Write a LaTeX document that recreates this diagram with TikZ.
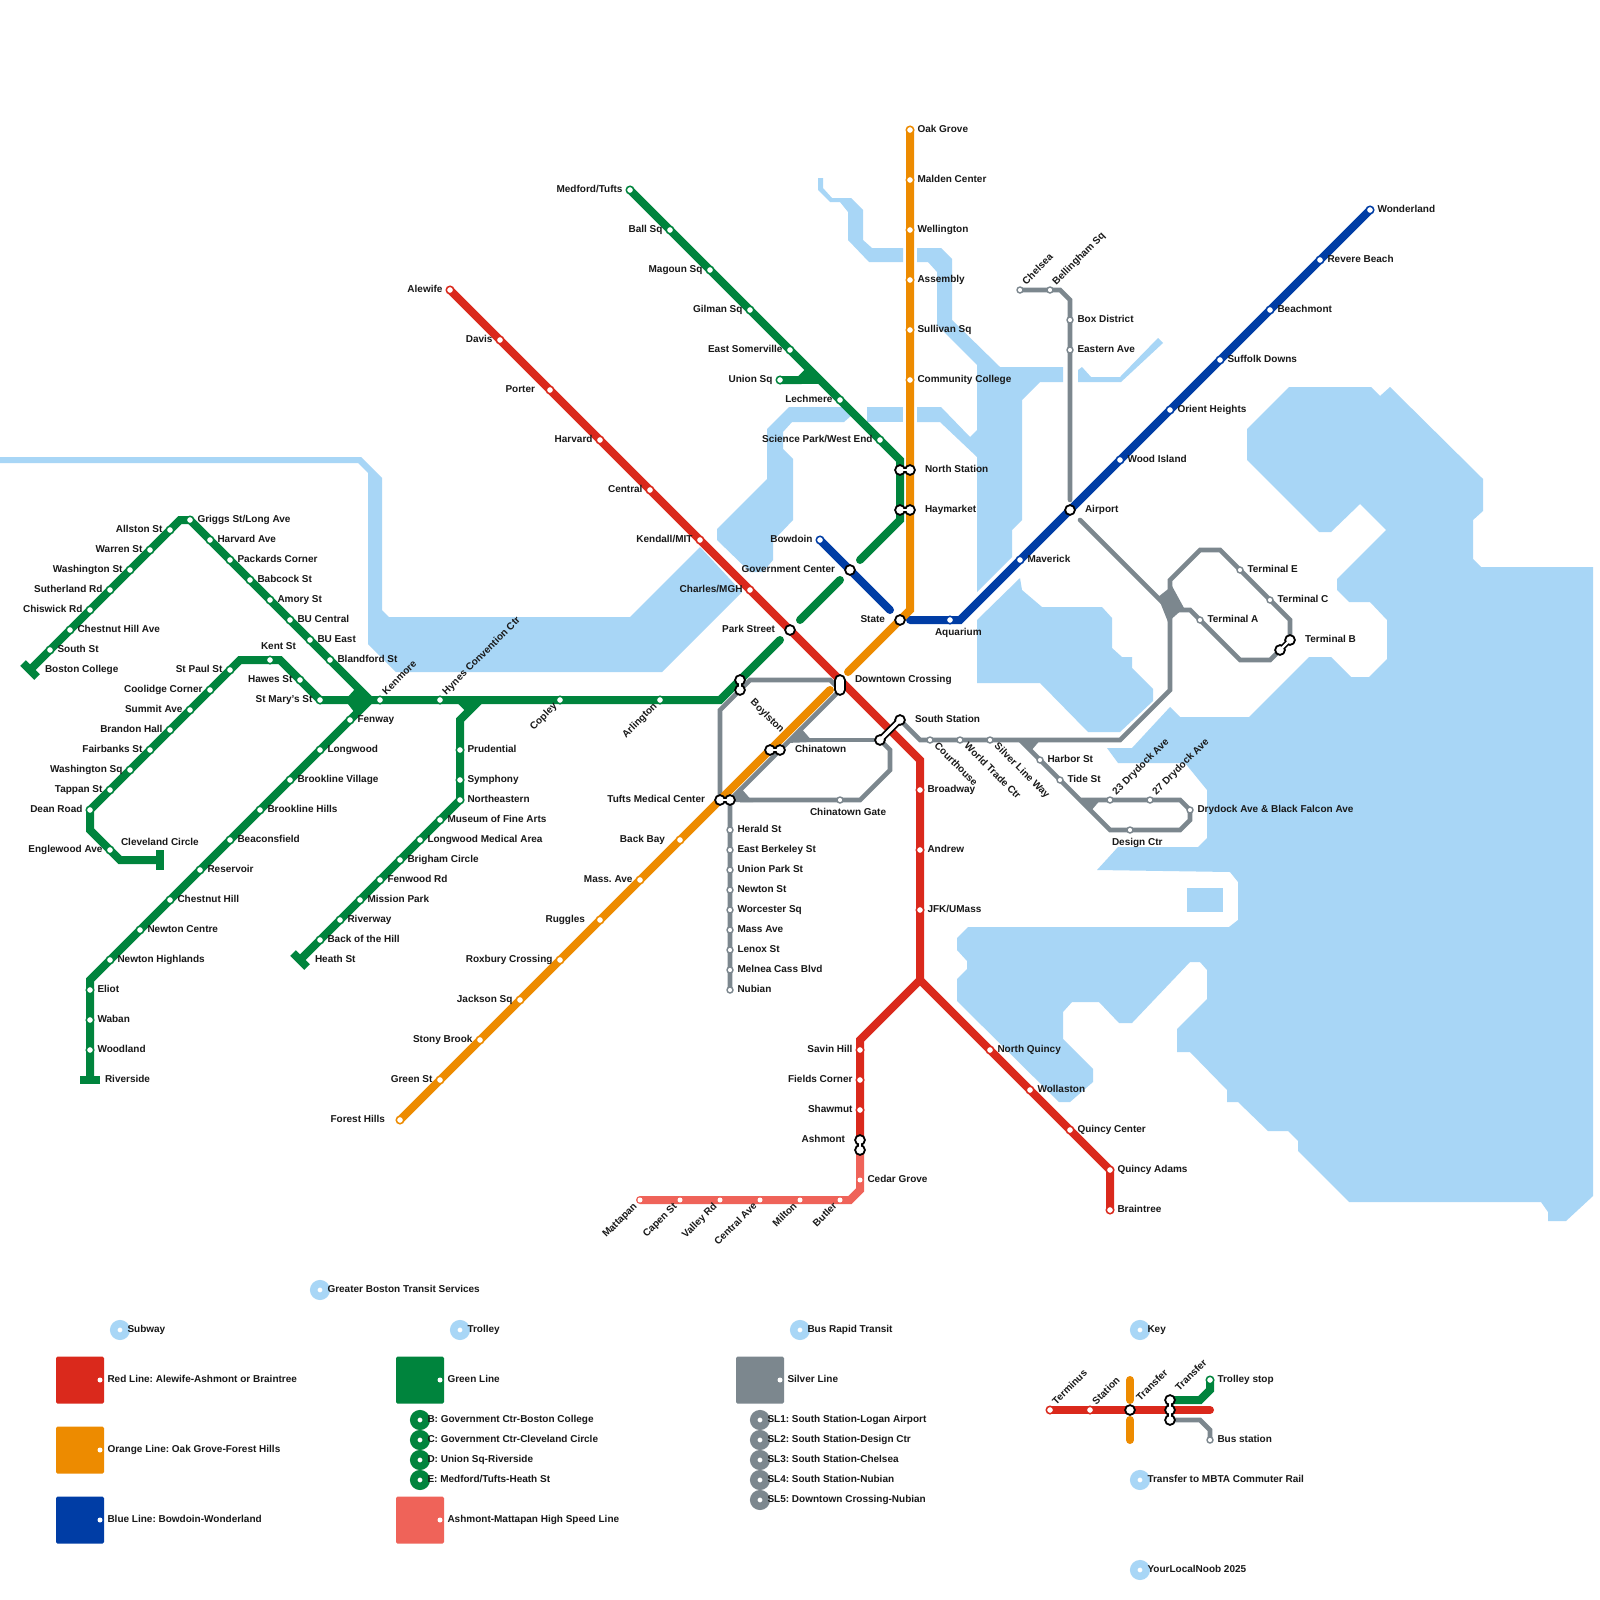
\documentclass[tikz,border=0pt]{standalone}
\usepackage{fontspec}
\setmainfont{Liberation Sans}
\definecolor{cred}{HTML}{DA291C}
\definecolor{corange}{HTML}{ED8B00}
\definecolor{cblue}{HTML}{003DA5}
\definecolor{cgreen}{HTML}{00843D}
\definecolor{csilver}{HTML}{7C878E}
\definecolor{cmatt}{HTML}{EF6359}
\definecolor{cwater}{HTML}{A8D6F6}
\pgfdeclarelayer{water}\pgfdeclarelayer{lines}\pgfdeclarelayer{top}
\pgfsetlayers{water,lines,main,top}
\tikzset{
 lbl/.style={inner sep=0pt,outer sep=0pt,text height=7.2pt,text depth=3.2pt,font=\bfseries\fontsize{10}{12}\selectfont\frenchspacing,text=black!90},
 R/.style={anchor=west,xshift=7.5pt},
 L/.style={anchor=east,xshift=-7.5pt},
 NE/.style={anchor=west,xshift=5pt,yshift=6.3pt,rotate=45},
 SW/.style={anchor=east,xshift=-4pt,yshift=-5.5pt,rotate=45},
 SE/.style={anchor=west,xshift=5.3pt,yshift=-5.3pt,rotate=-45},
 mk/.style={circle,inner sep=0pt,minimum size=7.5pt,line width=1.5pt,fill=white,draw=#1},
 sr/.style={mk=cred}, so/.style={mk=corange}, sb/.style={mk=cblue}, sg/.style={mk=cgreen}, sm/.style={circle,inner sep=0pt,minimum size=5pt,fill=white},
 ss/.style={circle,inner sep=0pt,minimum size=6pt,line width=1.4pt,fill=white,draw=csilver},
 xf/.style={circle,inner sep=0pt,minimum size=9.8pt,line width=1.8pt,fill=white,draw=black},
 lring/.style={circle,inner sep=0pt,minimum size=12.5pt,line width=7.5pt,fill=white,draw=#1},
 ldot/.style={circle,inner sep=0pt,minimum size=5pt,fill=white},
 lrect/.style={rectangle,rounded corners=1.5pt,inner sep=0pt,minimum width=48pt,minimum height=47pt,fill=#1},
 redl/.style={draw=cred,line width=8pt},
 orl/.style={draw=corange,line width=8pt},
 bll/.style={draw=cblue,line width=8pt},
 grl/.style={draw=cgreen,line width=8pt},
 mal/.style={draw=cmatt,line width=8pt},
 sil/.style={draw=csilver,line width=4.6pt},
 neckb/.style={draw=black,line width=5.6pt},
 neckw/.style={draw=white,line width=2.4pt},
 tbar/.style={draw=cgreen,line width=8pt},
}
\newcommand\stn[6]{\node[#4] (#1) at (#2,#3) {};\node[lbl,#5] (#1-t) at (#1.center) {#6};}
\newcommand\mkr[4]{\node[#4] (#1) at (#2,#3) {};}
\newcommand\txt[5]{\node[lbl,#4] (#1) at (#2,#3) {#5};}
\begin{document}
\begin{tikzpicture}[x=1pt,y=-1pt]
\useasboundingbox (0,0) rectangle (1600,1600);
\begin{pgfonlayer}{water}
\fill[white] (0,0) rectangle (1600,1600);
\fill[cwater] (0,457)--(361,457)--(382,478)--(382,610)--(389,617)--(630,617)--(700,547)--(742,592)--(662,672)--(396,672)--(368,644)--(368,473)--(358,463)--(0,463)--cycle;
\fill[cwater] (717,529)--(767,479)--(767,429)--(789,407)--(843,407)--(852,415)--(844,422)--(792,422)--(783,432)--(783,449)--(793,459)--(793,520)--(773,541)--(773,560)--(763,572)--(750,572)--(717,540)--cycle;
\fill[cwater] (867,407)--(903,407)--(903,422)--(867,422)--cycle;
\fill[cwater] (818,178)--(823,178)--(823,188)--(832,198)--(851,198)--(863,210)--(863,240)--(872,248)--(903,248)--(903,262)--(869,262)--(848,240)--(848,212)--(840,202)--(830,202)--(818,190)--cycle;
\fill[cwater] (917,248)--(941,248)--(952,259)--(952,320)--(1000,367)--(1063,367)--(1063,382)--(1040,382)--(1022,400)--(1022,520)--(1012,530)--(1012,557)--(977,592)--(977,457)--(940,422)--(917,422)--(917,407)--(941,407)--(970,437)--(977,430)--(977,365)--(937,325)--(937,272)--(928,262)--(917,262)--cycle;
\fill[cwater] (1078,370)--(1082,367)--(1091,377)--(1120,377)--(1158,338)--(1163,343)--(1121,382)--(1078,382)--cycle;
\fill[cwater] (977,620)--(1020,578)--(1022,590)--(1042,607)--(1102,607)--(1112,618)--(1112,648)--(1122,657)--(1132,657)--(1132,668)--(1153,689)--(1153,701)--(1120,732)--(1088,732)--(1040,683)--(977,683)--cycle;
\fill[cwater] (1170,707)--(1132,748)--(1107,748)--(1118,763)--(1185,763)--(1207,790)--(1207,838)--(1198,847)--(1118,847)--(1097,870)--(1230,872)--(1238,882)--(1238,920)--(1229,927)--(968,927)--(957,938)--(957,950)--(967,961)--(967,969)--(957,979)--(957,1001)--(1059,1102)--(1070,1102)--(1093,1082)--(1093,1069)--(1063,1039)--(1063,1012)--(1072,1002)--(1099,1002)--(1119,1023)--(1132,1023)--(1190,962)--(1200,962)--(1207,970)--(1207,999)--(1177,1029)--(1177,1052)--(1190,1052)--(1227,1090)--(1227,1102)--(1238,1102)--(1268,1131)--(1288,1131)--(1298,1141)--(1298,1151)--(1349,1202)--(1541,1202)--(1548,1212)--(1548,1221)--(1566,1221)--(1593,1196)--(1593,567)--(1481,567)--(1473,559)--(1473,520)--(1483,511)--(1483,479)--(1390,387)--(1380,396)--(1371,387)--(1289,387)--(1247,429)--(1247,460)--(1319,532)--(1331,532)--(1360,504)--(1386,530)--(1337,579)--(1337,590)--(1349,602)--(1370,602)--(1387,620)--(1387,659)--(1369,677)--(1351,677)--(1331,657)--(1309,657)--(1249,717)--(1180,717)--cycle;
\fill[cwater] (1187,888) rectangle (1223,912);
\end{pgfonlayer}
% ---------- Orange
\stn{oak}{910}{130}{so}{R}{Oak Grove}
\stn{malden}{910}{180}{so}{R}{Malden Center}
\stn{well}{910}{230}{so}{R}{Wellington}
\stn{assembly}{910}{280}{so}{R}{Assembly}
\stn{sullivan}{910}{330}{so}{R}{Sullivan Sq}
\stn{cc}{910}{380}{so}{R}{Community College}
\mkr{northo}{910}{470}{xf}
\txt{northt}{925}{470}{anchor=west}{North Station}
\mkr{haym}{910}{510}{xf}
\txt{haymt}{925}{510}{anchor=west}{Haymarket}
\stn{backbay}{680}{840}{so}{L,xshift=-7.5pt}{Back Bay}
\stn{mass}{640}{880}{so}{L}{Mass. Ave}
\stn{ruggles}{600}{920}{so}{L,xshift=-7.5pt}{Ruggles}
\stn{roxbury}{560}{960}{so}{L}{Roxbury Crossing}
\stn{jackson}{520}{1000}{so}{L}{Jackson Sq}
\stn{stony}{480}{1040}{so}{L}{Stony Brook}
\stn{greenst}{440}{1080}{so}{L}{Green St}
\stn{forest}{400}{1120}{so}{L,xshift=-7.5pt}{Forest Hills}
% ---------- Red
\stn{alewife}{450}{290}{sr}{L}{Alewife}
\stn{davis}{500}{340}{sr}{L}{Davis}
\stn{porter}{550}{390}{sr}{L,xshift=-7.5pt}{Porter}
\stn{harvard}{600}{440}{sr}{L}{Harvard}
\stn{central}{650}{490}{sr}{L}{Central}
\stn{kendall}{700}{540}{sr}{L}{Kendall/MIT}
\stn{charles}{750}{590}{sr}{L}{Charles/MGH}
\mkr{park}{790}{630}{xf}
\txt{parkt}{775}{630}{anchor=east}{Park Street}
\mkr{dtxa}{840}{680}{xf}
\mkr{dtxb}{840}{690}{xf}
\txt{dtxt}{855}{680}{anchor=west}{Downtown Crossing}
\mkr{southa}{900}{720}{xf}
\mkr{southb}{880}{740}{xf}
\txt{southt}{915}{720}{anchor=west}{South Station}
\stn{broadway}{920}{790}{sr}{R}{Broadway}
\stn{andrew}{920}{850}{sr}{R}{Andrew}
\stn{jfk}{920}{910}{sr}{R}{JFK/UMass}
\stn{savin}{860}{1050}{sr}{L}{Savin Hill}
\stn{fields}{860}{1080}{sr}{L}{Fields Corner}
\stn{shawmut}{860}{1110}{sr}{L}{Shawmut}
\mkr{asha}{860}{1140}{xf}
\mkr{ashb}{860}{1150}{xf}
\txt{asht}{845}{1140}{anchor=east}{Ashmont}
\stn{nquincy}{990}{1050}{sr}{R}{North Quincy}
\stn{wollaston}{1030}{1090}{sr}{R}{Wollaston}
\stn{quincyc}{1070}{1130}{sr}{R}{Quincy Center}
\stn{quincya}{1110}{1170}{sr}{R}{Quincy Adams}
\stn{braintree}{1110}{1210}{sr}{R}{Braintree}
% ---------- Mattapan
\stn{cedar}{860}{1180}{sm}{R}{Cedar Grove}
\stn{butler}{840}{1200}{sm}{SW}{Butler}
\stn{milton}{800}{1200}{sm}{SW}{Milton}
\stn{centralave}{760}{1200}{sm}{SW}{Central Ave}
\stn{valley}{720}{1200}{sm}{SW}{Valley Rd}
\stn{capen}{680}{1200}{sm}{SW}{Capen St}
\stn{mattapan}{640}{1200}{sm}{SW}{Mattapan}
% ---------- Blue
\stn{bowdoin}{820}{540}{sb}{L}{Bowdoin}
\mkr{gov}{850}{570}{xf}
\txt{govt}{835}{570}{anchor=east}{Government Center}
\mkr{state}{900}{620}{xf}
\txt{statet}{885}{620}{anchor=east}{State}
\stn{aquarium}{950}{620}{sb}{anchor=west,xshift=-15pt,yshift=-13pt}{Aquarium}
\stn{maverick}{1020}{560}{sb}{R}{Maverick}
\mkr{airport}{1070}{510}{xf}
\txt{airportt}{1085}{510}{anchor=west}{Airport}
\stn{wood}{1120}{460}{sb}{R}{Wood Island}
\stn{orient}{1170}{410}{sb}{R}{Orient Heights}
\stn{suffolk}{1220}{360}{sb}{R}{Suffolk Downs}
\stn{beachmont}{1270}{310}{sb}{R}{Beachmont}
\stn{revere}{1320}{260}{sb}{R}{Revere Beach}
\stn{wonderland}{1370}{210}{sb}{R}{Wonderland}
% ---------- Green
\stn{medford}{630}{190}{sg}{L}{Medford/Tufts}
\stn{ball}{670}{230}{sg}{L}{Ball Sq}
\stn{magoun}{710}{270}{sg}{L}{Magoun Sq}
\stn{gilman}{750}{310}{sg}{L}{Gilman Sq}
\stn{esom}{790}{350}{sg}{L}{East Somerville}
\stn{union}{780}{380}{sg}{L}{Union Sq}
\stn{lechmere}{840}{400}{sg}{L}{Lechmere}
\stn{science}{880}{440}{sg}{L}{Science Park/West End}
\mkr{northg}{900}{470}{xf}
\mkr{haymg}{900}{510}{xf}
\mkr{boyla}{740}{680}{xf}
\mkr{boylb}{740}{690}{xf}
\txt{boylt}{751.5}{701.5}{anchor=west,rotate=-45}{Boylston}
\stn{arlington}{660}{700}{sg}{SW}{Arlington}
\stn{copley}{560}{700}{sg}{SW}{Copley}
\stn{hynes}{440}{700}{sg}{NE}{Hynes Convention Ctr}
\stn{kenmore}{380}{700}{sg}{NE}{Kenmore}
\stn{griggs}{190}{520}{sg}{R}{Griggs St/Long Ave}
\stn{allston}{170}{530}{sg}{L}{Allston St}
\stn{warren}{150}{550}{sg}{L}{Warren St}
\stn{washst}{130}{570}{sg}{L}{Washington St}
\stn{sutherland}{110}{590}{sg}{L}{Sutherland Rd}
\stn{chiswick}{90}{610}{sg}{L}{Chiswick Rd}
\stn{chestave}{70}{630}{sg}{R}{Chestnut Hill Ave}
\stn{southst}{50}{650}{sg}{R}{South St}
\coordinate (bc) at (30,670);
\txt{bct}{45}{670}{anchor=west}{Boston College}
\stn{harvave}{210}{540}{sg}{R}{Harvard Ave}
\stn{packards}{230}{560}{sg}{R}{Packards Corner}
\stn{babcock}{250}{580}{sg}{R}{Babcock St}
\stn{amory}{270}{600}{sg}{R}{Amory St}
\stn{bucentral}{290}{620}{sg}{R}{BU Central}
\stn{bueast}{310}{640}{sg}{R}{BU East}
\stn{blandford}{330}{660}{sg}{R}{Blandford St}
\stn{stmarys}{320}{700}{sg}{L}{St Mary's St}
\stn{hawes}{300}{680}{sg}{L}{Hawes St}
\stn{kent}{270}{660}{sg}{anchor=west,xshift=-9pt,yshift=13pt}{Kent St}
\stn{stpaul}{230}{670}{sg}{L}{St Paul St}
\stn{coolidge}{210}{690}{sg}{L}{Coolidge Corner}
\stn{summit}{190}{710}{sg}{L}{Summit Ave}
\stn{brandon}{170}{730}{sg}{L}{Brandon Hall}
\stn{fairbanks}{150}{750}{sg}{L}{Fairbanks St}
\stn{washsq}{130}{770}{sg}{L}{Washington Sq}
\stn{tappan}{110}{790}{sg}{L}{Tappan St}
\stn{dean}{90}{810}{sg}{L}{Dean Road}
\stn{englewood}{110}{850}{sg}{L}{Englewood Ave}
\coordinate (cleve) at (160,860);
\txt{clevet}{121}{843}{anchor=west}{Cleveland Circle}
\stn{fenway}{350}{720}{sg}{R}{Fenway}
\stn{longwood}{320}{750}{sg}{R}{Longwood}
\stn{brookv}{290}{780}{sg}{R}{Brookline Village}
\stn{brookh}{260}{810}{sg}{R}{Brookline Hills}
\stn{beacon}{230}{840}{sg}{R}{Beaconsfield}
\stn{reservoir}{200}{870}{sg}{R}{Reservoir}
\stn{chesthill}{170}{900}{sg}{R}{Chestnut Hill}
\stn{newtonc}{140}{930}{sg}{R}{Newton Centre}
\stn{newtonh}{110}{960}{sg}{R}{Newton Highlands}
\stn{eliot}{90}{990}{sg}{R}{Eliot}
\stn{waban}{90}{1020}{sg}{R}{Waban}
\stn{woodland}{90}{1050}{sg}{R}{Woodland}
\coordinate (river) at (90,1080);
\txt{rivert}{105}{1080}{anchor=west}{Riverside}
\stn{prudential}{460}{750}{sg}{R}{Prudential}
\stn{symphony}{460}{780}{sg}{R}{Symphony}
\stn{northeastern}{460}{800}{sg}{R}{Northeastern}
\stn{museum}{440}{820}{sg}{R}{Museum of Fine Arts}
\stn{longmed}{420}{840}{sg}{R}{Longwood Medical Area}
\stn{brigham}{400}{860}{sg}{R}{Brigham Circle}
\stn{fenwood}{380}{880}{sg}{R}{Fenwood Rd}
\stn{mission}{360}{900}{sg}{R}{Mission Park}
\stn{riverway}{340}{920}{sg}{R}{Riverway}
\stn{backhill}{320}{940}{sg}{R}{Back of the Hill}
\coordinate (heath) at (300,960);
\txt{heatht}{315}{960}{anchor=west}{Heath St}
% ---------- Silver
\mkr{chinaa}{770}{750}{xf}
\mkr{chinab}{780}{750}{xf}
\txt{chinat}{795}{750}{anchor=west}{Chinatown}
\mkr{tuftsa}{720}{800}{xf}
\mkr{tuftsb}{730}{800}{xf}
\txt{tuftst}{705}{800}{anchor=east}{Tufts Medical Center}
\stn{chgate}{840}{800}{ss}{anchor=west,xshift=-30pt,yshift=-13pt}{Chinatown Gate}
\stn{herald}{730}{830}{ss}{R}{Herald St}
\stn{eberk}{730}{850}{ss}{R}{East Berkeley St}
\stn{unionpk}{730}{870}{ss}{R}{Union Park St}
\stn{newtonst}{730}{890}{ss}{R}{Newton St}
\stn{worcester}{730}{910}{ss}{R}{Worcester Sq}
\stn{massave}{730}{930}{ss}{R}{Mass Ave}
\stn{lenox}{730}{950}{ss}{R}{Lenox St}
\stn{melnea}{730}{970}{ss}{R}{Melnea Cass Blvd}
\stn{nubian}{730}{990}{ss}{R}{Nubian}
\stn{courthouse}{930}{740}{ss}{SE}{Courthouse}
\stn{wtc}{960}{740}{ss}{SE}{World Trade Ctr}
\stn{slway}{990}{740}{ss}{SE}{Silver Line Way}
\stn{harbor}{1040}{760}{ss}{R}{Harbor St}
\stn{tide}{1060}{780}{ss}{R}{Tide St}
\stn{dd23}{1110}{800}{ss}{NE}{23 Drydock Ave}
\stn{dd27}{1150}{800}{ss}{NE}{27 Drydock Ave}
\stn{drydock}{1190}{810}{ss}{R}{Drydock Ave \& Black Falcon Ave}
\stn{design}{1130}{830}{ss}{anchor=west,xshift=-18pt,yshift=-13pt}{Design Ctr}
\stn{terma}{1200}{620}{ss}{R}{Terminal A}
\stn{terme}{1240}{570}{ss}{R}{Terminal E}
\stn{termc}{1270}{600}{ss}{R}{Terminal C}
\mkr{termba}{1290}{640}{xf}
\mkr{termbb}{1280}{650}{xf}
\txt{termbt}{1305}{640}{anchor=west}{Terminal B}
\stn{chelsea}{1020}{290}{ss}{NE}{Chelsea}
\stn{bellingham}{1050}{290}{ss}{NE}{Bellingham Sq}
\stn{boxd}{1070}{320}{ss}{R}{Box District}
\stn{eastern}{1070}{350}{ss}{R}{Eastern Ave}
% ---------- Legend
\mkr{lgb}{320}{1290}{lring=cwater}
\txt{lgbt}{327.5}{1290}{anchor=west}{Greater Boston Transit Services}
\mkr{lsub}{120}{1330}{lring=cwater}
\txt{lsubt}{127.5}{1330}{anchor=west}{Subway}
\mkr{ltro}{460}{1330}{lring=cwater}
\txt{ltrot}{467.5}{1330}{anchor=west}{Trolley}
\mkr{lbrt}{800}{1330}{lring=cwater}
\txt{lbrtt}{807.5}{1330}{anchor=west}{Bus Rapid Transit}
\mkr{lkey}{1140}{1330}{lring=cwater}
\txt{lkeyt}{1147.5}{1330}{anchor=west}{Key}
\mkr{lcr}{1140}{1480}{lring=cwater}
\txt{lcrt}{1147.5}{1480}{anchor=west}{Transfer to MBTA Commuter Rail}
\mkr{lyln}{1140}{1570}{lring=cwater}
\txt{lylnt}{1147.5}{1570}{anchor=west}{YourLocalNoob 2025}
\node[lrect=cred] (rr) at (80,1380) {};
\node[lrect=corange] (ro) at (80,1450) {};
\node[lrect=cblue] (rb) at (80,1520) {};
\node[lrect=cgreen] (rg) at (420,1380) {};
\node[lrect=cmatt] (rm) at (420,1520) {};
\node[lrect=csilver] (rs) at (760,1380) {};
\stn{ldr}{100}{1380}{ldot}{R}{Red Line: Alewife-Ashmont or Braintree}
\stn{ldo}{100}{1450}{ldot}{R}{Orange Line: Oak Grove-Forest Hills}
\stn{ldb}{100}{1520}{ldot}{R}{Blue Line: Bowdoin-Wonderland}
\stn{ldg}{440}{1380}{ldot}{R}{Green Line}
\stn{ldm}{440}{1520}{ldot}{R}{Ashmont-Mattapan High Speed Line}
\stn{lds}{780}{1380}{ldot}{R}{Silver Line}
\stn{lgrb}{420}{1420}{lring=cgreen}{R}{B: Government Ctr-Boston College}
\stn{lgrc}{420}{1440}{lring=cgreen}{R}{C: Government Ctr-Cleveland Circle}
\stn{lgrd}{420}{1460}{lring=cgreen}{R}{D: Union Sq-Riverside}
\stn{lgre}{420}{1480}{lring=cgreen}{R}{E: Medford/Tufts-Heath St}
\stn{lsl1}{760}{1420}{lring=csilver}{R}{SL1: South Station-Logan Airport}
\stn{lsl2}{760}{1440}{lring=csilver}{R}{SL2: South Station-Design Ctr}
\stn{lsl3}{760}{1460}{lring=csilver}{R}{SL3: South Station-Chelsea}
\stn{lsl4}{760}{1480}{lring=csilver}{R}{SL4: South Station-Nubian}
\stn{lsl5}{760}{1500}{lring=csilver}{R}{SL5: Downtown Crossing-Nubian}
% key diagram
\stn{kterm}{1050}{1410}{sr}{NE}{Terminus}
\stn{kstat}{1090}{1410}{sr}{NE}{Station}
\mkr{kxf}{1130}{1410}{xf}
\txt{kxft}{1139}{1400}{anchor=west,rotate=45}{Transfer}
\mkr{kca}{1170}{1400}{xf}
\mkr{kcb}{1170}{1410}{xf}
\mkr{kcc}{1170}{1420}{xf}
\txt{kcat}{1178}{1390}{anchor=west,rotate=45}{Transfer}
\stn{ktro}{1210}{1380}{sg}{R}{Trolley stop}
\stn{kbus}{1210}{1440}{ss}{R}{Bus station}
\coordinate (kredend) at (1210,1410);
\coordinate (kora) at (1130,1380);
\coordinate (korb) at (1130,1400);
\coordinate (korc) at (1130,1420);
\coordinate (kord) at (1130,1440);
% ---------- Lines
\begin{pgfonlayer}{lines}
\begin{scope}[line join=miter]
% Silver
\draw[sil] (dtxb.center)--(chinab.center)--(tuftsb.center)--(nubian.center);
\draw[sil] (southb.center)--(790,740);
\fill[csilver] (800,727)--(786,743)--(813,742)--cycle;
\draw[sil] (southb.center)--(890,750)--(890,770)--(860,800)--(chgate.center)--(740,800);
\fill[csilver] (740,787)--(727,802)--(753,802)--cycle;
\draw[sil] (boylb.center)--(750,680)--(830,680)--(dtxb.center);
\draw[sil] (boylb.center)--(720,710)--(720,790)--(tuftsa.center);
\draw[sil] (southa.center)--(920,740)--(courthouse.center)--(1120,740)--(1170,690)--(1170,580)--(1200,550)--(1220,550)--(terme.center)--(1290,620)--(termba.center);
\draw[sil] (termbb.center)--(1270,660)--(1240,660)--(terma.center)--(1190,610)--(1170,610);
\draw[sil,line cap=round] (1080,520)--(1170,610);
\fill[csilver] (1158,597)--(1172,586)--(1184,608)--(1168,622)--cycle;
\draw[sil] (1020,740)--(harbor.center)--(1110,830)--(1180,830)--(1190,820)--(1190,810)--(1180,800)--(1080,800);
\fill[csilver] (1018,738)--(1042,738)--(1030,752)--cycle;
\fill[csilver] (1078,798)--(1102,798)--(1090,812)--cycle;
\draw[sil,line cap=round] (chelsea.center)--(1060,290)--(1070,300)--(1070,500);
% Blue
\draw[bll,line cap=round] (bowdoin.center)--(890,610);
\draw[bll,line cap=round] (910,620)--(960,620)--(wonderland.center);
% Green
\draw[grl,line cap=round] (medford.center)--(900,460)--(haymg.center)--(900,520)--(860,560);
\draw[grl] (union.center)--(820,380);
\draw[grl] (union.center)--(800,380)--(810,370);
\draw[grl,line cap=round] (840,580)--(800,620);
\draw[grl,line cap=round] (780,640)--(720,700)--(stmarys.center);
\draw[grl] (460,700)--(470,710);
\draw[grl] (480,700)--(460,720)--(northeastern.center)--(heath);
\draw[tbar] (293,953)--(307,967);
\fill[cgreen] (345,700)--(356,688)--(375,700)--(358,717)--cycle;
\draw[grl] (370,700)--(fenway.center)--(330,740)--(90,980)--(river);
\draw[tbar] (80,1080)--(100,1080);
\draw[grl] (370,700)--(190,520)--(180,520)--(bc);
\draw[tbar] (23,663)--(37,677);
\draw[grl] (stmarys.center)--(280,660)--(240,660)--(90,810)--(90,830)--(120,860)--(cleve);
\draw[tbar] (160,850)--(160,870);
% Mattapan
\draw[mal,line cap=round] (ashb.center)--(860,1190)--(850,1200)--(mattapan.center);
% Red
\draw[redl,line cap=butt] (alewife.center)--(920,760)--(920,980)--(860,1040)--(asha.center);
\draw[redl] (920,980)--(quincya.center)--(braintree.center);
% Orange
\draw[orl,line cap=round] (oak.center)--(910,610)--(848,672);
\draw[orl,line cap=round] (830,690)--(forest.center);
% Key
\draw[grl] (kca.center)--(1200,1400)--(1210,1390)--(ktro.center);
\draw[sil] (kcc.center)--(1200,1420)--(1210,1430)--(kbus.center);
\draw[redl,line cap=round] (kterm.center)--(kredend);
\draw[orl,line cap=round] (kora)--(korb);
\draw[orl,line cap=round] (korc)--(kord);
% black necks
\draw[neckb] (northg.center)--(northo.center);
\draw[neckb] (haymg.center)--(haym.center);
\draw[neckb] (boyla.center)--(boylb.center);
\draw[neckb] (chinaa.center)--(chinab.center);
\draw[neckb] (tuftsa.center)--(tuftsb.center);
\draw[neckb,line width=7pt] (southa.center)--(southb.center);
\draw[neckb] (asha.center)--(ashb.center);
\draw[neckb] (termba.center)--(termbb.center);
\draw[neckb] (kca.center)--(kcc.center);
\draw[draw=black,line width=11.6pt] (dtxa.center)--(dtxb.center);
\end{scope}
\end{pgfonlayer}
\begin{pgfonlayer}{top}
\draw[neckw] (northg.center)--(northo.center);
\draw[neckw] (haymg.center)--(haym.center);
\draw[neckw] (boyla.center)--(boylb.center);
\draw[neckw] (chinaa.center)--(chinab.center);
\draw[neckw] (tuftsa.center)--(tuftsb.center);
\draw[neckw,line width=3.4pt] (southa.center)--(southb.center);
\draw[neckw] (asha.center)--(ashb.center);
\draw[neckw] (termba.center)--(termbb.center);
\draw[neckw] (kca.center)--(kcc.center);
\draw[draw=white,line width=8pt] (dtxa.center)--(dtxb.center);
\end{pgfonlayer}
\end{tikzpicture}
\end{document}
